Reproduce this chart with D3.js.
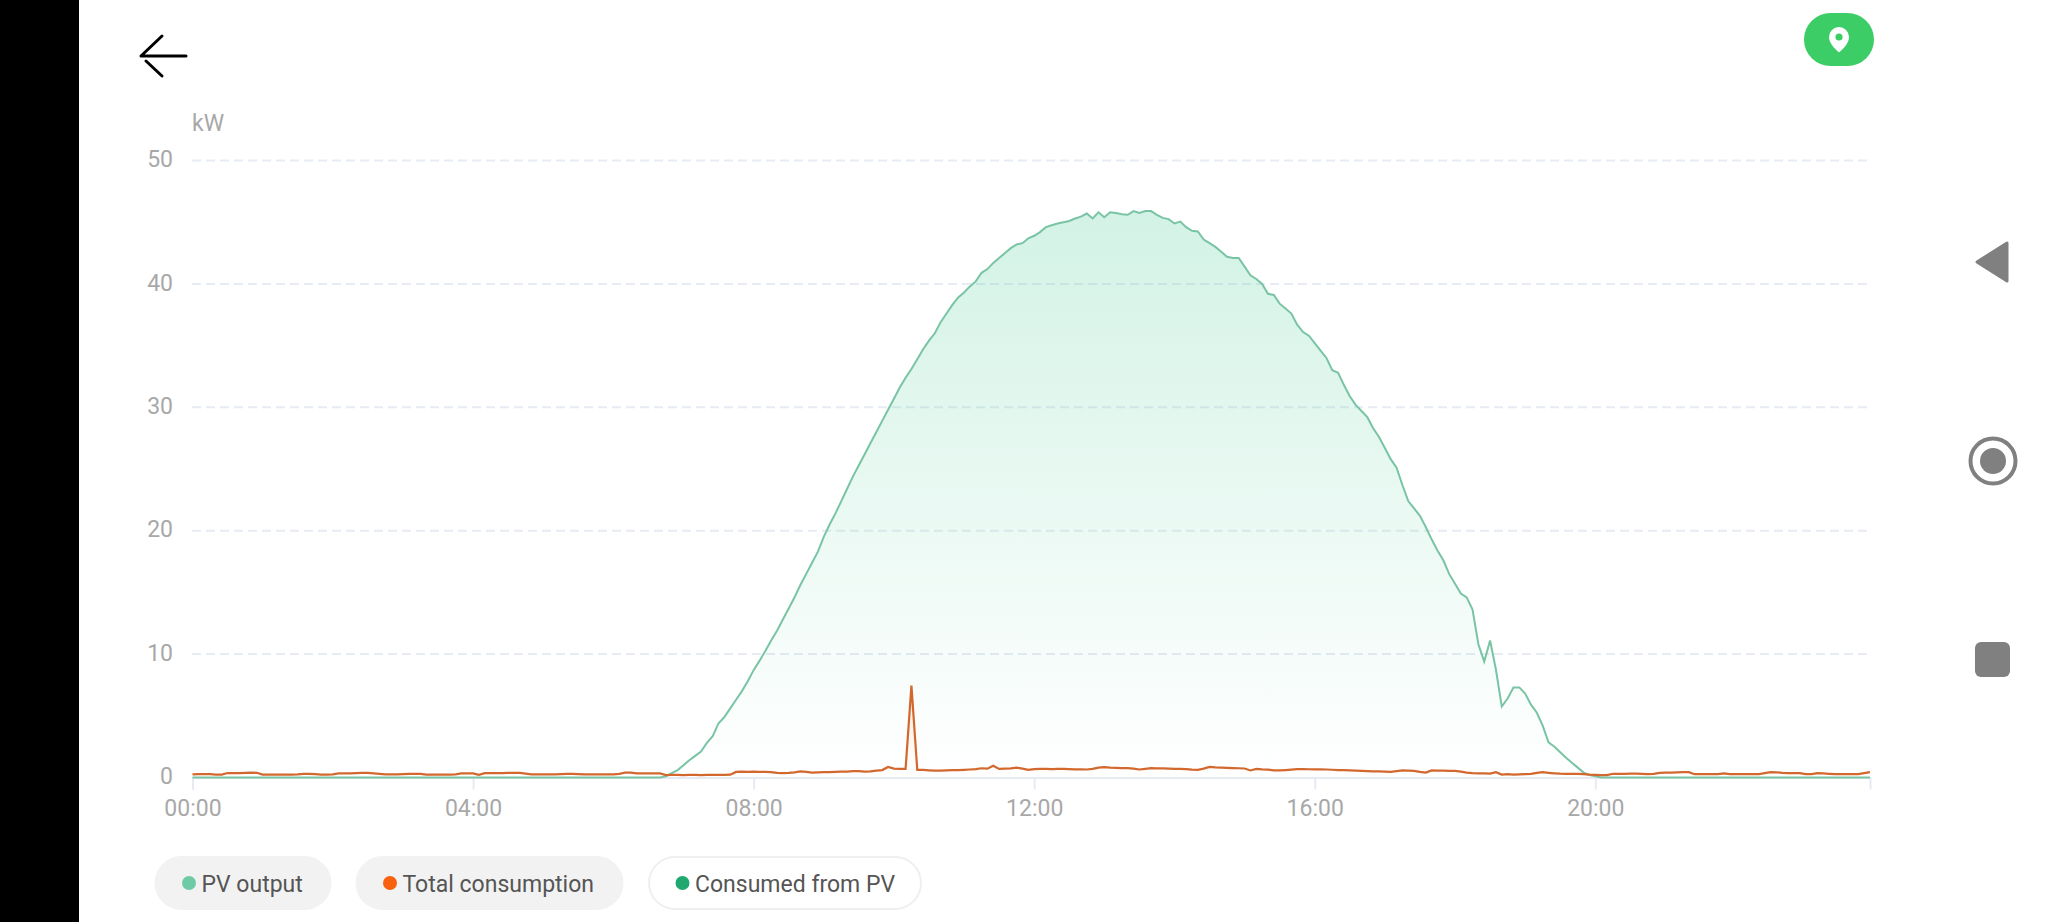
<!DOCTYPE html>
<html>
<head>
<meta charset="utf-8">
<script src="https://cdn.jsdelivr.net/npm/d3@7/dist/d3.min.js"></script>
<style>
html,body{margin:0;padding:0;background:#fff;overflow:hidden}
svg{display:block;font-family:Roboto,sans-serif}
</style>
</head>
<body>
<svg id="c" width="2048" height="922"></svg>
<script>
const tickLabels = ["00:00","04:00","08:00","12:00","16:00","20:00"];
const tickIndexes = [0,48,96,144,192,240];
const yTicks = [0,10,20,30,40,50];
const unitLabel = "kW";
const legendNames = ["PV output","Total consumption","Consumed from PV"];
const legendColors = ["#6fcba5","#f9610f","#1fa971"];
const legendActive = [true,true,false];

// one value every 5 minutes, kW
const pvOutput = [
0,0,0,0,0,0,0,0,0,0,0,0,
0,0,0,0,0,0,0,0,0,0,0,0,
0,0,0,0,0,0,0,0,0,0,0,0,
0,0,0,0,0,0,0,0,0,0,0,0,
0,0,0,0,0,0,0,0,0,0,0,0,
0,0,0,0,0,0,0,0,0,0,0,0,
0,0,0,0,0,0,0,0,0,
0.1,0.35,0.6,1.0,1.4,1.75,2.1,2.8,3.35,4.4,4.9,5.6,6.3,7.0,7.8,8.7,9.45,10.25,11.1,11.9,
12.8,13.7,14.6,15.6,16.5,17.4,18.3,19.5,20.5,21.4,22.4,23.4,24.4,25.3,26.2,27.1,28.0,28.9,29.8,30.7,
31.6,32.4,33.1,33.9,34.7,35.4,36.0,36.9,37.6,38.3,38.9,39.3,39.8,40.2,40.9,41.2,41.7,42.1,42.5,42.9,
43.2,43.3,43.7,43.9,44.2,44.6,44.75,44.9,45.0,45.1,45.3,45.45,45.7,45.3,45.8,45.4,45.8,45.75,45.65,45.6,
45.9,45.75,45.9,45.9,45.6,45.35,45.25,44.9,45.05,44.6,44.3,44.25,43.6,43.3,43.0,42.6,42.2,42.1,42.1,41.4,
40.7,40.4,40.0,39.2,39.1,38.4,38.0,37.6,36.7,36.1,35.8,35.2,34.6,34.0,33.0,32.8,31.8,30.9,30.2,29.7,
29.2,28.3,27.6,26.7,25.8,25.1,23.7,22.4,21.8,21.2,20.3,19.3,18.4,17.6,16.5,15.7,14.9,14.6,13.6,10.8,
9.4,11.1,8.75,5.75,6.4,7.3,7.3,6.8,5.9,5.25,4.2,2.85,2.5,2.05,1.6,1.2,0.8,0.4,0.2,0.1,
0,0,0,0,0,0,0,0,0,0,0,0,
0,0,0,0,0,0,0,0,0,0,0,0,
0,0,0,0,0,0,0,0,0,0,0,0,
0,0,0,0,0,0,0,0,0,0,0
];
const totalConsumption = [
.25,.27,.27,.27,.24,.24,.36,.36,.36,.38,.4,.38,
.24,.24,.24,.24,.24,.24,.25,.3,.3,.28,.24,.24,
.25,.33,.33,.34,.36,.37,.37,.33,.3,.25,.25,.25,
.27,.3,.3,.3,.24,.24,.24,.24,.24,.26,.33,.33,
.33,.22,.35,.35,.35,.35,.37,.38,.38,.32,.26,.26,
.26,.26,.26,.28,.3,.3,.27,.25,.25,.25,.25,.25,
.25,.3,.4,.4,.34,.33,.33,.33,.33,.2,.22,.22,
.2,.21,.22,.2,.22,.22,.21,.22,.23,.45,.47,.46,
.47,.46,.46,.44,.38,.36,.38,.42,.5,.46,.4,.42,
.44,.44,.46,.47,.48,.52,.52,.48,.5,.56,.6,.85,
.72,.7,.7,7.45,.62,.62,.58,.55,.56,.58,.6,.6,
.62,.65,.68,.75,.72,.95,.7,.72,.74,.8,.72,.62,
.68,.7,.7,.68,.7,.7,.68,.66,.66,.65,.7,.8,
.84,.8,.78,.76,.76,.72,.65,.7,.76,.74,.74,.72,
.7,.7,.68,.64,.62,.72,.86,.82,.8,.78,.76,.75,
.73,.57,.7,.66,.64,.58,.57,.6,.64,.68,.68,.67,
.66,.66,.65,.63,.6,.6,.58,.56,.54,.52,.5,.49,
.47,.46,.52,.57,.55,.54,.46,.4,.57,.55,.55,.54,
.54,.48,.4,.35,.34,.33,.32,.43,.24,.28,.24,.26,
.28,.3,.38,.43,.38,.34,.31,.3,.3,.3,.28,.24,
.22,.2,.19,.3,.3,.3,.31,.32,.3,.27,.3,.38,
.39,.4,.42,.43,.43,.27,.27,.27,.27,.27,.33,.27,
.27,.27,.27,.27,.27,.35,.43,.42,.38,.36,.36,.35,
.27,.28,.35,.33,.3,.27,.27,.27,.27,.27,.35,.43
];

const svg = d3.select("#c");
const defs = svg.append("defs");
const x = d3.scalePoint().domain(d3.range(pvOutput.length)).range([192.5,1870]);
const y = d3.scaleLinear().domain([0,50]).range([777.5,160.5]);

function grad(id,color,top,bottom,y1){
  const g = defs.append("linearGradient").attr("id",id).attr("gradientUnits","userSpaceOnUse")
    .attr("x1",0).attr("x2",0).attr("y1",y1).attr("y2",y(0));
  g.append("stop").attr("offset",0).attr("stop-color",color).attr("stop-opacity",top);
  g.append("stop").attr("offset",1).attr("stop-color",color).attr("stop-opacity",bottom);
}
grad("pvFill","#66d3a7",.29,0,y(46));
grad("useFill","#f9610f",.12,0,y(7.5));

// page chrome
svg.append("rect").attr("width",2048).attr("height",922).attr("fill","#fff");
svg.append("rect").attr("width",79).attr("height",922).attr("fill","#000");
svg.append("path").attr("d","M186 56H141L162 36M146 61L162 76").attr("fill","none")
  .attr("stroke","#000").attr("stroke-width",3).attr("stroke-linecap","round").attr("stroke-linejoin","round");
svg.append("rect").attr("x",1804).attr("y",13).attr("width",70).attr("height",53).attr("rx",26.5).attr("fill","#3ccd67");
svg.append("path").attr("d","M1839 52.5C1834 48 1829 43 1829 37A10 10 0 0 1 1849 37C1849 43 1844 48 1839 52.5Z").attr("fill","#fff");
svg.append("circle").attr("cx",1839).attr("cy",37).attr("r",3.6).attr("fill","#3ccd67");
svg.append("path").attr("d","M1977 262L2007 243V281Z").attr("fill","#808080").attr("stroke","#808080").attr("stroke-width",3).attr("stroke-linejoin","round");
svg.append("circle").attr("cx",1993).attr("cy",461).attr("r",22.5).attr("fill","none").attr("stroke","#808080").attr("stroke-width",4);
svg.append("circle").attr("cx",1993).attr("cy",461).attr("r",13).attr("fill","#808080");
svg.append("rect").attr("x",1975).attr("y",642).attr("width",35).attr("height",35).attr("rx",6).attr("fill","#808080");

// grid
svg.append("g").selectAll("line").data(yTicks.filter(d=>d>0)).join("line")
  .attr("x1",192).attr("x2",1870).attr("y1",d=>y(d)).attr("y2",d=>y(d))
  .attr("stroke","#e6ebf4").attr("stroke-width",2).attr("stroke-dasharray","9 5");

// axes
const axisX = svg.append("g").attr("transform",`translate(0,${y(0)})`)
  .call(d3.axisBottom(x).tickValues(tickIndexes).tickFormat((d,i)=>tickLabels[i]).tickSizeOuter(0).tickSize(12).tickPadding(10));
axisX.select(".domain").attr("stroke","#e6eaf3").attr("stroke-width",2);
axisX.selectAll(".tick line").attr("stroke","#e6eaf3").attr("stroke-width",2);
axisX.selectAll("text").attr("fill","#a8a8a8").attr("font-size",23).attr("font-family","Roboto");
const axisY = svg.append("g").attr("transform","translate(173,0)")
  .call(d3.axisLeft(y).tickValues(yTicks).tickSize(0).tickPadding(0));
axisY.select(".domain").remove();
axisY.selectAll("text").attr("fill","#a8a8a8").attr("font-size",23).attr("font-family","Roboto").attr("dy","0.27em");
svg.append("text").attr("x",192).attr("y",131).attr("fill","#a8a8a8").attr("font-size",23).text(unitLabel);

// series
const idx = d3.range(pvOutput.length);
const area = s => d3.area().x(i=>x(i)).y0(y(0)).y1(i=>y(s[i]))(idx);
const line = s => d3.line().x(i=>x(i)).y(i=>y(s[i]))(idx);
svg.append("path").attr("d",area(pvOutput)).attr("fill","url(#pvFill)");
svg.append("path").attr("d",line(pvOutput)).attr("fill","none").attr("stroke","#78c4a4").attr("stroke-width",2);
svg.append("path").attr("d",area(totalConsumption)).attr("fill","url(#useFill)");
svg.append("path").attr("d",line(totalConsumption)).attr("fill","none").attr("stroke","#d2682d").attr("stroke-width",2.2);

// legend
const pills = [[154.5,177],[355.5,268],[648,274]];
const lg = svg.append("g").selectAll("g").data(legendNames).join("g")
  .attr("transform",(d,i)=>`translate(${pills[i][0]},856)`);
lg.append("rect").attr("x",1).attr("y",1).attr("width",(d,i)=>pills[i][1]-2).attr("height",52).attr("rx",26)
  .attr("fill",(d,i)=>legendActive[i]?"#f2f2f2":"#fff")
  .attr("stroke",(d,i)=>legendActive[i]?"#f2f2f2":"#efefef").attr("stroke-width",2);
lg.append("circle").attr("cx",34.5).attr("cy",27).attr("r",7).attr("fill",(d,i)=>legendColors[i]);
lg.append("text").attr("x",47).attr("y",35.5).attr("fill","#555").attr("font-size",23).text(d=>d);
</script>
</body>
</html>
